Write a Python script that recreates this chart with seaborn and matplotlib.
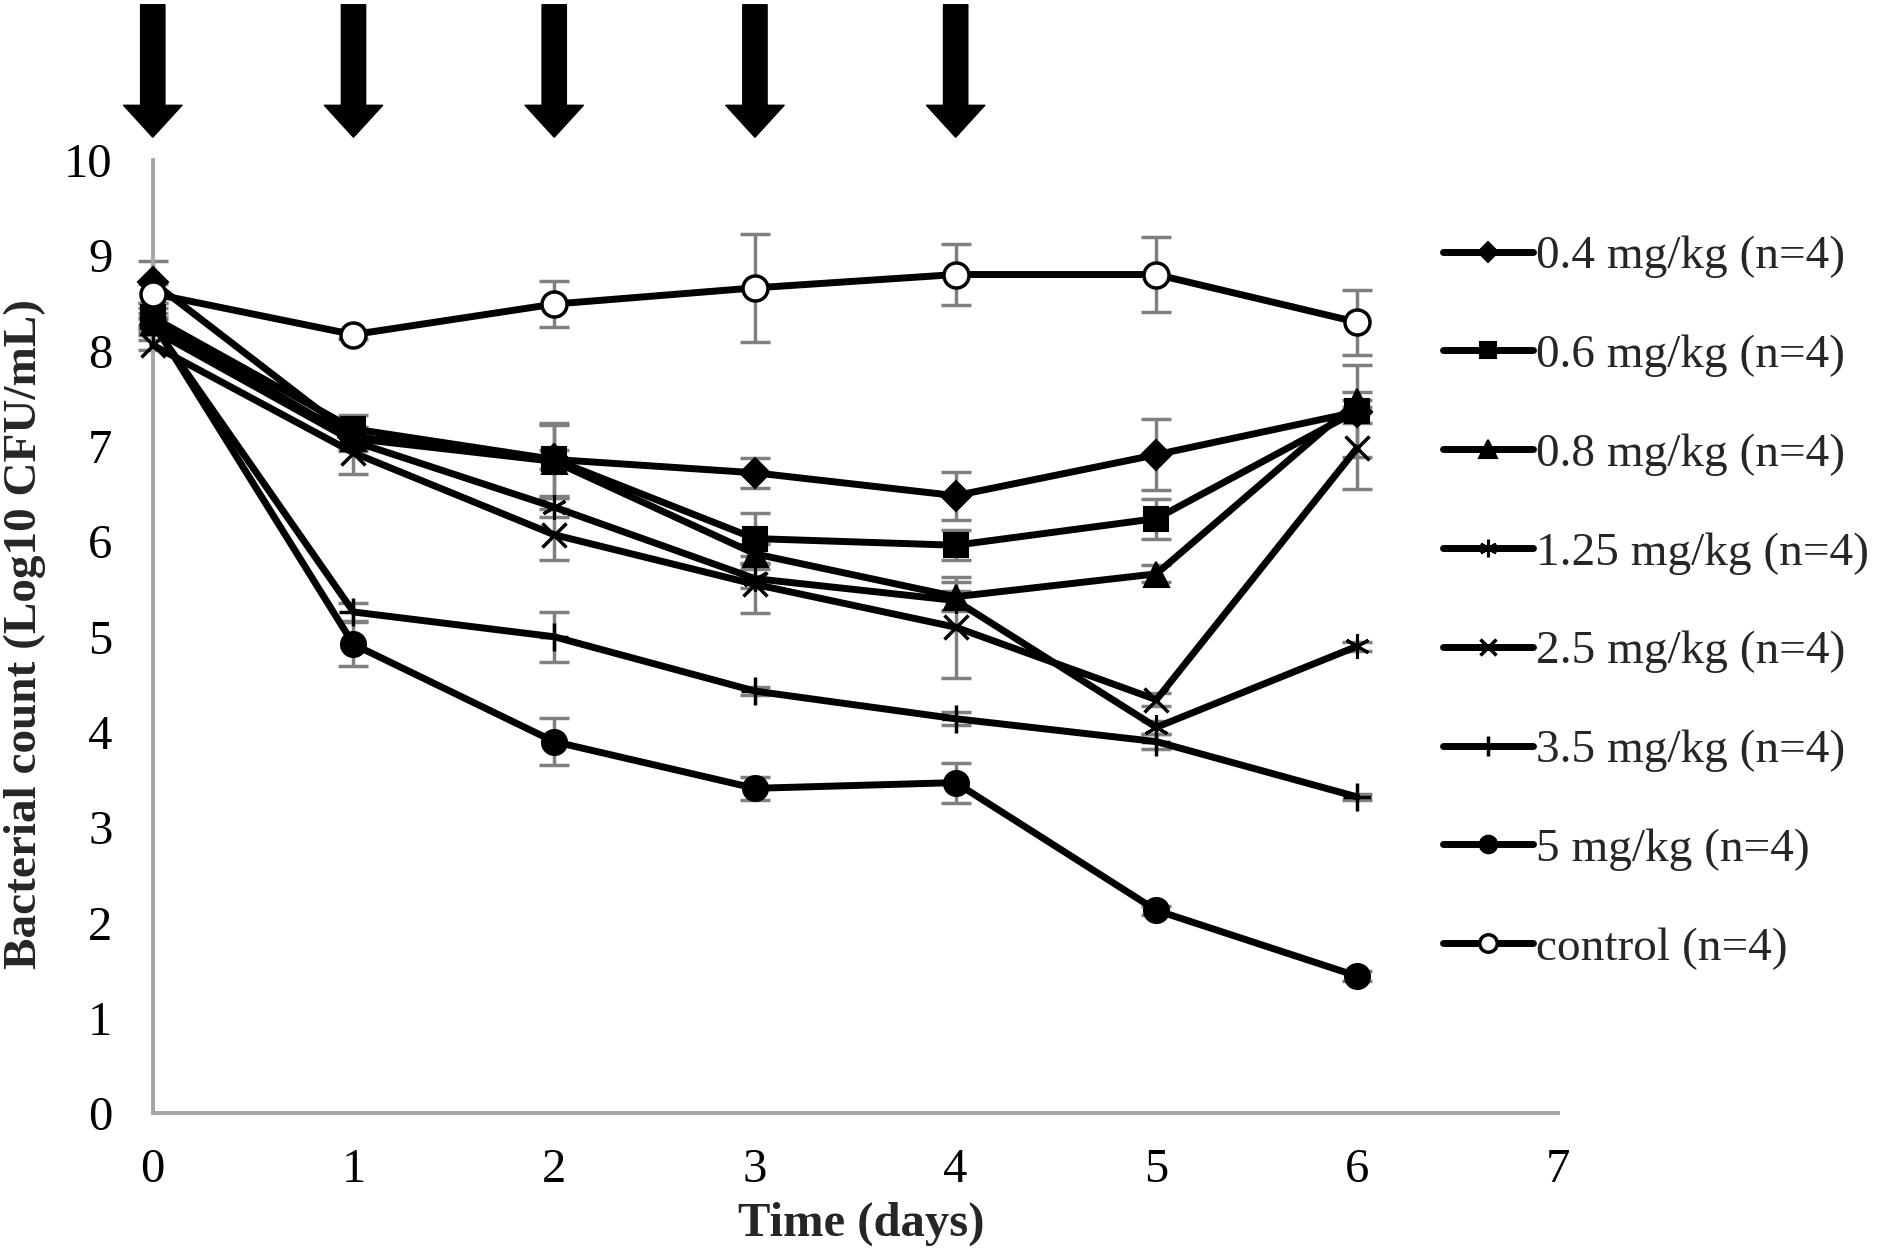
import numpy as np
import pandas as pd
import seaborn as sns
import matplotlib.pyplot as plt

# data (log10 CFU/mL, mean and error)
days = [0, 1, 2, 3, 4, 5, 6]
labels = ["0.4 mg/kg (n=4)", "0.6 mg/kg (n=4)", "0.8 mg/kg (n=4)", "1.25 mg/kg (n=4)",
          "2.5 mg/kg (n=4)", "3.5 mg/kg (n=4)", "5 mg/kg (n=4)", "control (n=4)"]
mean_04 = [8.72, 7.10, 6.86, 6.72, 6.48, 6.91, 7.36]
err_04 = [0.22, 0.10, 0.10, 0.16, 0.25, 0.37, 0.12]
mean_06 = [8.35, 7.18, 6.86, 6.03, 5.96, 6.24, 7.37]
err_06 = [0.10, 0.15, 0.38, 0.27, 0.16, 0.21, 0.48]
mean_08 = [8.30, 7.08, 6.84, 5.87, 5.42, 5.66, 7.47]
err_08 = [0.10, 0.10, 0.38, 0.10, 0.15, 0.09, 0.10]
mean_125 = [8.22, 7.05, 6.36, 5.61, 5.38, 4.05, 4.90]
err_125 = [0.05, 0.10, 0.10, 0.10, 0.10, 0.07, 0.05]
mean_25 = [8.06, 6.93, 6.07, 5.55, 5.10, 4.34, 6.98]
err_25 = [0.05, 0.22, 0.27, 0.30, 0.53, 0.07, 0.43]
mean_35 = [8.28, 5.26, 5.00, 4.43, 4.14, 3.90, 3.32]
err_35 = [0.05, 0.09, 0.26, 0.04, 0.07, 0.08, 0.03]
mean_5 = [8.30, 4.92, 3.90, 3.41, 3.47, 2.13, 1.44]
err_5 = [0.05, 0.23, 0.25, 0.12, 0.21, 0.05, 0.05]
mean_ctrl = [8.60, 8.17, 8.49, 8.66, 8.80, 8.80, 8.30]
err_ctrl = [0.10, 0.05, 0.24, 0.57, 0.32, 0.39, 0.34]
dose_days = [0, 1, 2, 3, 4]  # arrows on top

means = [mean_04, mean_06, mean_08, mean_125, mean_25, mean_35, mean_5, mean_ctrl]
errs = [err_04, err_06, err_08, err_125, err_25, err_35, err_5, err_ctrl]

# marker styles per series: (marker, size, face, edge width)
styles = [("D", 15, "k", 1.5),
          ("s", 17, "k", 1.5),
          ("^", 18, "k", 1.5),
          ((6, 2, 0), 18, "k", 2.2),
          ("x", 17, "k", 2.5),
          ("+", 20, "k", 2.5),
          ("o", 18, "k", 1.5),
          ("o", 18, "w", 2.5)]

sns.set_style("white")
plt.rcParams["font.family"] = ["Liberation Serif", "DejaVu Serif"]

grey = "#a6a6a6"

fig = plt.figure(figsize=(18.86, 12.51), dpi=100)
ax = fig.add_axes([0.081, 0.110, 0.745, 0.762])

for lab, m, e, (mk, ms, fc, mew) in zip(labels, means, errs, styles):
    df = pd.DataFrame({"day": days, "count": m})
    ax.errorbar(days, m, yerr=e, fmt="none", ecolor="#808080", elinewidth=2.5,
                capsize=11, capthick=2.5, zorder=2, clip_on=False)
    sns.lineplot(data=df, x="day", y="count", ax=ax, color="k", lw=5,
                 marker=mk, markersize=ms, markerfacecolor=fc,
                 markeredgecolor="k", markeredgewidth=mew, label=lab,
                 zorder=3, clip_on=False)

ax.set_xlim(0, 7)
ax.set_ylim(0, 10)
ax.set_xticks(range(0, 8))
ax.set_yticks(range(0, 11))

for s in ["top", "right"]:
    ax.spines[s].set_visible(False)
for s in ["left", "bottom"]:
    ax.spines[s].set_color(grey)
    ax.spines[s].set_linewidth(2.8)
ax.tick_params(axis="both", colors=grey, width=2.8, length=9, labelsize=35,
               labelcolor="k")
ax.tick_params(axis="y", pad=20)
ax.tick_params(axis="x", pad=16)

ax.set_xlabel("Time (days)", fontsize=35, fontweight="bold")
ax.set_ylabel("Bacterial count (Log10 CFU/mL)", fontsize=34, fontweight="bold")
ax.xaxis.set_label_coords(0.504, -0.093)
ax.yaxis.set_label_coords(-0.076, 0.503)

# dosing arrows
for d in dose_days:
    ax.annotate("", xy=(d, 10.24), xytext=(d, 11.63), xycoords="data",
                annotation_clip=False,
                arrowprops=dict(arrowstyle="simple,head_width=4.2,head_length=2.3,tail_width=1.75",
                                color="k", shrinkA=0, shrinkB=0, mutation_scale=10))

ax.legend(loc="upper left", bbox_to_anchor=(0.765, 0.812), bbox_transform=fig.transFigure,
          frameon=False, fontsize=34, markerscale=0.7, handlelength=1.9,
          handletextpad=0.08, labelspacing=1.18, borderpad=0, borderaxespad=0)

fig.savefig("out.png", dpi=100)
